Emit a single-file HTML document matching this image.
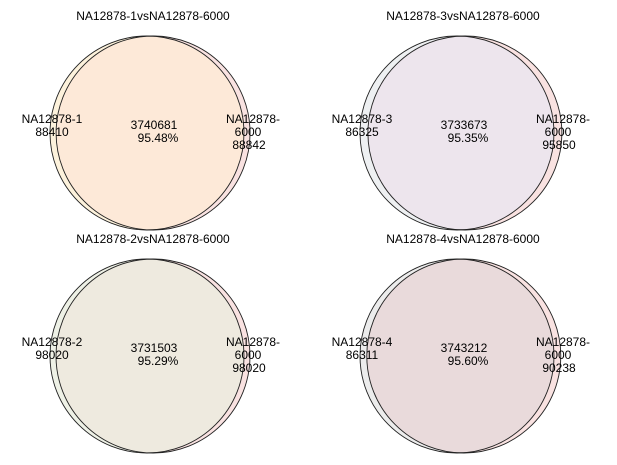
<!DOCTYPE html>
<html><head><meta charset="utf-8"><style>
body{margin:0;background:#fff;}
svg{display:block;font-family:"Liberation Sans","DejaVu Sans",sans-serif;font-size:12px;fill:#000;}
</style></head><body>
<svg id="chart" width="617" height="465"></svg>
<script>
const titles=["NA12878-1vsNA12878-6000","NA12878-3vsNA12878-6000","NA12878-2vsNA12878-6000","NA12878-4vsNA12878-6000"];
const leftNames=["NA12878-1","NA12878-3","NA12878-2","NA12878-4"];
const leftOnly=[88410,86325,98020,86311];
const shared=[3740681,3733673,3731503,3743212];
const sharedPct=["95.48%","95.35%","95.29%","95.60%"];
const rightOnly=[88842,95850,98020,90238];
const panelCx=[149,459,149,459];
const panelCy=[133,133,356,356];
const overlapFill=["#fde9d8","#ede5ed","#eeeadf","#e9dadb"];
const leftFill=["#fdf2dc","#eef0f2","#eef1e6","#ececec"];
const NS="http://www.w3.org/2000/svg";
const svg=document.getElementById('chart');
function mk(t,a){const e=document.createElementNS(NS,t);for(const k in a)e.setAttribute(k,a[k]);return e;}
function txt(g,x,y,s,anchor){const t=mk('text',{x:x,y:y,'text-anchor':anchor||'middle'});t.textContent=s;g.appendChild(t);return t;}
const defs=mk('defs',{});svg.appendChild(defs);
for(let i=0;i<4;i++){
  const g=mk('g',{});
  
  
  svg.appendChild(g);
  const cx=panelCx[i],cy=panelCy[i],r=97;
  const lx=cx-2, rx=cx+4+(rightOnly[i]-leftOnly[i])/5000;
  const cp=mk('clipPath',{id:'clip'+i});
  cp.appendChild(mk('circle',{cx:lx,cy:cy,r:r}));
  defs.appendChild(cp);
  const rc=mk('circle',{cx:rx,cy:cy,r:r,fill:'#f9e2e1',stroke:'none'});
  
  
  g.appendChild(rc);
  const lc=mk('circle',{cx:lx,cy:cy,r:r,fill:leftFill[i],stroke:'none'});
  
  
  g.appendChild(lc);
  const oc=mk('circle',{cx:rx,cy:cy,r:r,fill:overlapFill[i],'clip-path':'url(#clip'+i+')'});
  
  
  g.appendChild(oc);
  g.appendChild(mk('circle',{cx:rx,cy:cy,r:r,fill:'none',stroke:'#222','stroke-width':0.9}));
  g.appendChild(mk('circle',{cx:lx,cy:cy,r:r,fill:'none',stroke:'#222','stroke-width':0.9}));
  const t=txt(g,cx+4,cy-113,titles[i]);
  
  
  const l1=txt(g,cx-97,cy-10,leftNames[i]);
  
  
  const l2=txt(g,cx-97,cy+3,String(leftOnly[i]));
  
  
  const c1=txt(g,cx+5,cy-4,String(shared[i]));
  
  
  const c2=txt(g,cx+9,cy+9,sharedPct[i]);
  
  
  const r1=txt(g,cx+104,cy-10,'NA12878-');
  
  
  const r2=txt(g,cx+99,cy+3,'6000');
  
  
  const r3=txt(g,cx+100,cy+16,String(rightOnly[i]));
  
  
}
</script>
</body></html>
